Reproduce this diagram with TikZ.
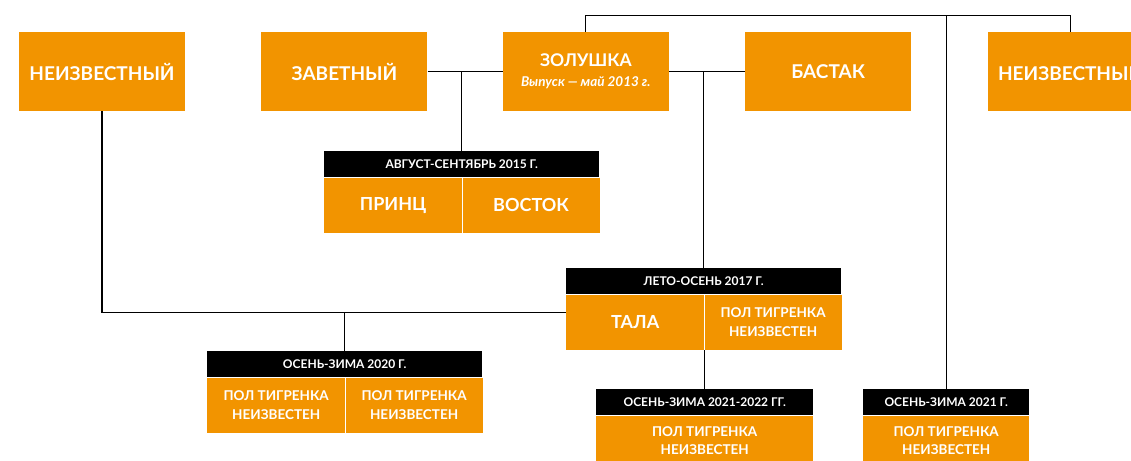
\documentclass[tikz,border=0pt]{standalone}
\usepackage{fontspec}
\setmainfont{Lato}
\usepackage{xcolor}
\usepackage{tikz}
\usetikzlibrary{positioning}
\definecolor{tigerorange}{HTML}{F29400}

\begin{document}
\begin{tikzpicture} [
            x = 1pt, y = -1pt,
            % ----- Node definitions ----- %
            topnode/.style = {
                rectangle,
                fill = tigerorange,
                text = white,
                minimum width = 166pt,
                minimum height = 79pt,
                inner sep = 0pt,
                align = center,
                font = \bfseries\fontsize{19}{22}\selectfont
            },
            headnode/.style = {
                rectangle,
                fill = black,
                text = white,
                minimum width = #1,
                minimum height = 26pt,
                inner sep = 0pt,
                anchor = north west,
                font = \bfseries\fontsize{12}{14}\selectfont
            },
            cellnode/.style = {
                rectangle,
                fill = tigerorange,
                text = white,
                minimum width = #1,
                minimum height = 55pt,
                inner sep = 0pt,
                align = center,
                font = \bfseries\fontsize{13.5}{18.5}\selectfont
            },
            namenode/.style = {
                cellnode = #1,
                font = \bfseries\fontsize{18}{20}\selectfont
            },
            linkline/.style = {
                draw = black,
                line width = 1.2pt
            },
            splitline/.style = {
                draw = white,
                line width = 1.2pt
            }
    ]

        \useasboundingbox (0,0) rectangle (1131,460);
        \clip (0,0) rectangle (1131,460);

        % ----- Parents row ----- %
        \node [topnode] (unknownA) at (102,71.5) {НЕИЗВЕСТНЫЙ};
        \node [topnode, right=76pt of unknownA] (zavetny) {ЗАВЕТНЫЙ};
        \node [topnode, right=75pt of zavetny] (zolushka) {
            {\fontsize{17.5}{20}\selectfont ЗОЛУШКА}\\[-2pt]
            {\itshape\fontsize{13.5}{16}\selectfont Выпуск — май 2013 г.}
        };
        \node [topnode, right=76pt of zolushka] (bastak) {БАСТАК};
        \node [topnode, right=76pt of bastak] (unknownB) {НЕИЗВЕСТНЫЙ};

        % ----- Litters ----- %
        \node [headnode=275pt] (augtitle) at (324,151) {АВГУСТ-СЕНТЯБРЬ 2015 Г.};
        \node [namenode=138pt, anchor=north west] (prince) at (augtitle.south west) {ПРИНЦ};
        \node [namenode=137pt, right=0pt of prince] (vostok) {ВОСТОК};

        \node [headnode=275pt] (summertitle) at (566,268) {ЛЕТО-ОСЕНЬ 2017 Г.};
        \node [namenode=138pt, anchor=north west] (tala) at (summertitle.south west) {ТАЛА};
        \node [cellnode=137pt, right=0pt of tala] (talasib) {ПОЛ ТИГРЕНКА\\НЕИЗВЕСТЕН};

        \node [headnode=275pt] (autumntitle) at (207,351) {ОСЕНЬ-ЗИМА 2020 Г.};
        \node [cellnode=138pt, anchor=north west] (cubA) at (autumntitle.south west) {ПОЛ ТИГРЕНКА\\НЕИЗВЕСТЕН};
        \node [cellnode=137pt, right=0pt of cubA] (cubB) {ПОЛ ТИГРЕНКА\\НЕИЗВЕСТЕН};

        \node [headnode=217pt] (winteratitle) at (596,389) {ОСЕНЬ-ЗИМА 2021-2022 ГГ.};
        \node [cellnode=217pt, minimum height=50pt, anchor=north west] (cubC) at (winteratitle.south west) {ПОЛ ТИГРЕНКА\\НЕИЗВЕСТЕН};

        \node [headnode=166pt] (winterbtitle) at (863,389) {ОСЕНЬ-ЗИМА 2021 Г.};
        \node [cellnode=166pt, minimum height=50pt, anchor=north west] (cubD) at (winterbtitle.south west) {ПОЛ ТИГРЕНКА\\НЕИЗВЕСТЕН};

        \draw [splitline] (prince.north east) -- (prince.south east);
        \draw [splitline] (tala.north east) -- (tala.south east);
        \draw [splitline] (cubA.north east) -- (cubA.south east);

        % ----- Connections ----- %
        \coordinate (toprail) at ([yshift=16pt]zolushka.north);
        \coordinate (lowrail) at ([yshift=9.5pt]tala.west);

        \draw [linkline] (zavetny.east) -- (zolushka.west);
        \draw [linkline] (zolushka.east) -- (bastak.west);
        \draw [linkline] (augtitle.north) -- (augtitle.north |- zavetny.east);
        \draw [linkline] (summertitle.north) -- (summertitle.north |- bastak.west);

        \draw [linkline] (zolushka.north) -- (toprail) -| (unknownB.north);
        \draw [linkline] (winterbtitle.north) -- (winterbtitle.north |- toprail);

        \draw [linkline] (unknownA.south) |- (lowrail);
        \draw [linkline] (autumntitle.north) -- (autumntitle.north |- lowrail);
        \draw [linkline] (winteratitle.north) -- (winteratitle.north |- tala.south);

\end{tikzpicture}
\end{document}
